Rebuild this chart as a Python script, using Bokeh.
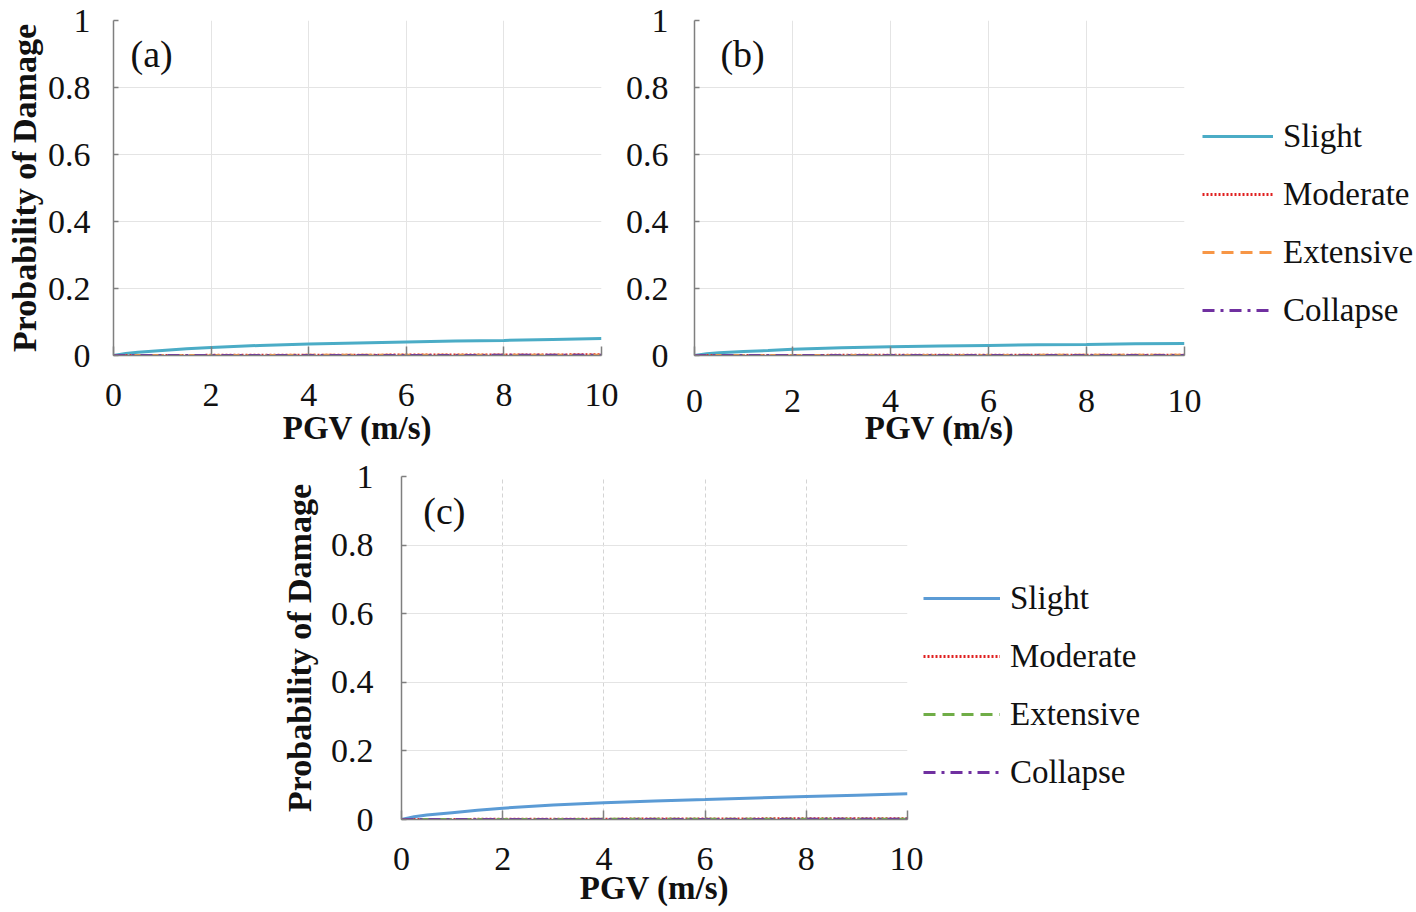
from bokeh.plotting import figure
from bokeh.models import Range1d, FixedTicker, Legend, LegendItem, Spacer, Label
from bokeh.layouts import row, column
from bokeh.embed import file_html
from bokeh.resources import INLINE

# ---------------- data ----------------
pgv = [0, 0.25, 0.5, 1, 1.5, 2, 3, 4, 5, 6, 7, 8, 9, 10]

a_slight = [0, 0.006, 0.010, 0.015, 0.020, 0.024, 0.030, 0.034, 0.037, 0.040, 0.043, 0.045, 0.048, 0.051]
a_moderate = [0, 0.0000, 0.0001, 0.0002, 0.0003, 0.0004, 0.0006, 0.0008, 0.0010, 0.0012, 0.0014, 0.0016, 0.0018, 0.0020]
a_extensive = [0, 0.0000, 0.0000, 0.0001, 0.0001, 0.0002, 0.0003, 0.0004, 0.0005, 0.0006, 0.0007, 0.0008, 0.0009, 0.0010]
a_collapse = [0, 0.0000, 0.0000, 0.0000, 0.0001, 0.0001, 0.0001, 0.0002, 0.0002, 0.0003, 0.0003, 0.0004, 0.0004, 0.0005]

b_slight = [0, 0.005, 0.008, 0.012, 0.015, 0.019, 0.023, 0.026, 0.028, 0.030, 0.032, 0.033, 0.035, 0.036]
b_moderate = [0, 0.0000, 0.0001, 0.0001, 0.0002, 0.0003, 0.0004, 0.0005, 0.0006, 0.0007, 0.0008, 0.0009, 0.0010, 0.0011]
b_extensive = [0, 0.0000, 0.0000, 0.0000, 0.0001, 0.0001, 0.0002, 0.0002, 0.0003, 0.0003, 0.0004, 0.0004, 0.0005, 0.0005]
b_collapse = [0, 0.0000, 0.0000, 0.0000, 0.0000, 0.0001, 0.0001, 0.0001, 0.0001, 0.0002, 0.0002, 0.0002, 0.0002, 0.0003]

c_slight = [0, 0.008, 0.013, 0.020, 0.027, 0.033, 0.042, 0.049, 0.054, 0.058, 0.063, 0.067, 0.071, 0.075]
c_moderate = [0, 0.0000, 0.0001, 0.0002, 0.0004, 0.0005, 0.0008, 0.0010, 0.0013, 0.0015, 0.0018, 0.0020, 0.0022, 0.0025]
c_extensive = [0, 0.0000, 0.0000, 0.0001, 0.0001, 0.0002, 0.0003, 0.0004, 0.0005, 0.0006, 0.0007, 0.0008, 0.0009, 0.0010]
c_collapse = [0, 0.0000, 0.0000, 0.0000, 0.0001, 0.0001, 0.0001, 0.0002, 0.0002, 0.0003, 0.0003, 0.0004, 0.0004, 0.0005]

series_names = ["Slight", "Moderate", "Extensive", "Collapse"]
x_ticks = [0, 2, 4, 6, 8, 10]
y_ticks = [0, 0.2, 0.4, 0.6, 0.8, 1]
y_tick_labels = ["0", "0.2", "0.4", "0.6", "0.8", "1"]
panel_labels = ["(a)", "(b)", "(c)"]
x_title = "PGV (m/s)"
y_title = "Probability of Damage"

SERIF = "Liberation Serif"
DASHES = ["solid", "2 2", "12 7", "12 6 3 6"]
WIDTHS = [3, 3, 3, 3]
TXT = "#111111"


def make_panel(w, h, bl, br, bt, bb, series, colors, tag, tag_xy, ylabel,
               xgrid_dash, ytick_standoff, ylab_standoff, xtick_standoff, xlab_standoff):
    p = figure(width=w, height=h, output_backend="svg", toolbar_location=None,
               x_range=Range1d(0, 10), y_range=Range1d(0, 1),
               min_border_left=bl, min_border_right=br,
               min_border_top=bt, min_border_bottom=bb)
    p.outline_line_color = None
    p.background_fill_color = "white"
    p.border_fill_color = "white"

    p.xaxis.ticker = FixedTicker(ticks=x_ticks)
    p.yaxis.ticker = FixedTicker(ticks=y_ticks)
    p.yaxis.major_label_overrides = {t: s for t, s in zip(y_ticks, y_tick_labels)}
    for ax in (p.xaxis, p.yaxis):
        ax.axis_line_color = "#7f7f7f"
        ax.axis_line_width = 1.5
        ax.major_tick_line_color = "#7f7f7f"
        ax.major_tick_line_width = 1.5
        ax.minor_tick_line_color = None
        ax.major_tick_out = 0
        ax.major_label_text_font = SERIF
        ax.major_label_text_font_size = "34px"
        ax.major_label_text_color = TXT
        ax.axis_label_text_font = SERIF
        ax.axis_label_text_font_style = "bold"
        ax.axis_label_text_color = TXT
    p.xaxis.major_tick_in = 9
    p.yaxis.major_tick_in = 5
    p.xaxis.major_label_standoff = xtick_standoff
    p.yaxis.major_label_standoff = ytick_standoff
    p.xaxis.axis_label = x_title
    p.xaxis.axis_label_text_font_size = "33px"
    p.xaxis.axis_label_standoff = xlab_standoff
    if ylabel:
        p.yaxis.axis_label = y_title
        p.yaxis.axis_label_text_font_size = "34px"
        p.yaxis.axis_label_standoff = ylab_standoff

    p.xgrid.grid_line_color = "#e4e4e4"
    p.ygrid.grid_line_color = "#e4e4e4"
    p.xgrid.grid_line_width = 1
    p.ygrid.grid_line_width = 1
    if xgrid_dash:
        p.xgrid.grid_line_dash = xgrid_dash
        p.xgrid.grid_line_color = "#d4d4d4"

    for ys, col, dash, lw in zip(series, colors, DASHES, WIDTHS):
        p.line(pgv, ys, line_color=col, line_width=lw, line_dash=dash)

    p.add_layout(Label(x=tag_xy[0], y=tag_xy[1], text=tag, text_font=SERIF,
                       text_font_size="38px", text_baseline="middle", text_color=TXT))
    return p


def make_legend(w, h, series, colors, glyph_w, legend_xy):
    # separate legend canvas; its renderers carry the same series but lie
    # outside its visible y range, so only the legend entries are seen
    f = figure(width=w, height=h, output_backend="svg", toolbar_location=None,
               x_range=Range1d(0, 10), y_range=Range1d(5, 6),
               x_axis_location=None, y_axis_location=None,
               min_border_left=0, min_border_right=0,
               min_border_top=0, min_border_bottom=0)
    f.outline_line_color = None
    f.xgrid.grid_line_color = None
    f.ygrid.grid_line_color = None
    items = []
    for name, ys, col, dash, lw in zip(series_names, series, colors, DASHES, WIDTHS):
        r = f.line(pgv, ys, line_color=col, line_width=lw, line_dash=dash)
        items.append(LegendItem(label=name, renderers=[r]))
    lg = Legend(items=items, location=legend_xy, orientation="vertical",
                border_line_color=None, background_fill_alpha=0,
                label_text_font=SERIF, label_text_font_size="33px",
                label_text_color=TXT,
                glyph_width=glyph_w, glyph_height=38, label_height=38,
                spacing=20, padding=0, margin=0, label_standoff=10)
    f.add_layout(lg)
    return f


colors_ab = ["#4BACC6", "#E02020", "#F79646", "#7030A0"]
colors_c = ["#5B9BD5", "#E02020", "#70AD47", "#7030A0"]

series_a = [a_slight, a_moderate, a_extensive, a_collapse]
series_b = [b_slight, b_moderate, b_extensive, b_collapse]
series_c = [c_slight, c_moderate, c_extensive, c_collapse]

# panel (a): frame x 113..601, y 20..355
pa = make_panel(620, 455, 113, 19, 20, 100, series_a, colors_ab,
                panel_labels[0], (0.35, 0.9), True, None, 23, 2, 28, 1)
# panel (b): frame x 694..1184
pb = make_panel(582, 455, 74, 18, 16, 96, series_b, colors_ab,
                panel_labels[1], (0.53, 0.9), False, None, 26, 0, 34, -5)
lb = make_legend(214, 455, series_b, colors_ab, 71, (0, 26))
# panel (c): frame x 401..907, y 476..819
pc = make_panel(655, 456, 133, 16, 21, 92, series_c, colors_c,
                panel_labels[2], (0.43, 0.9), True, "4 3", 28, 10, 28, -3)
lc = make_legend(240, 456, series_c, colors_c, 77, (0, 28))

layout = column(row(pa, pb, lb), row(Spacer(width=268, height=456), pc, lc))

open("out.html", "w").write(file_html(layout, INLINE))
